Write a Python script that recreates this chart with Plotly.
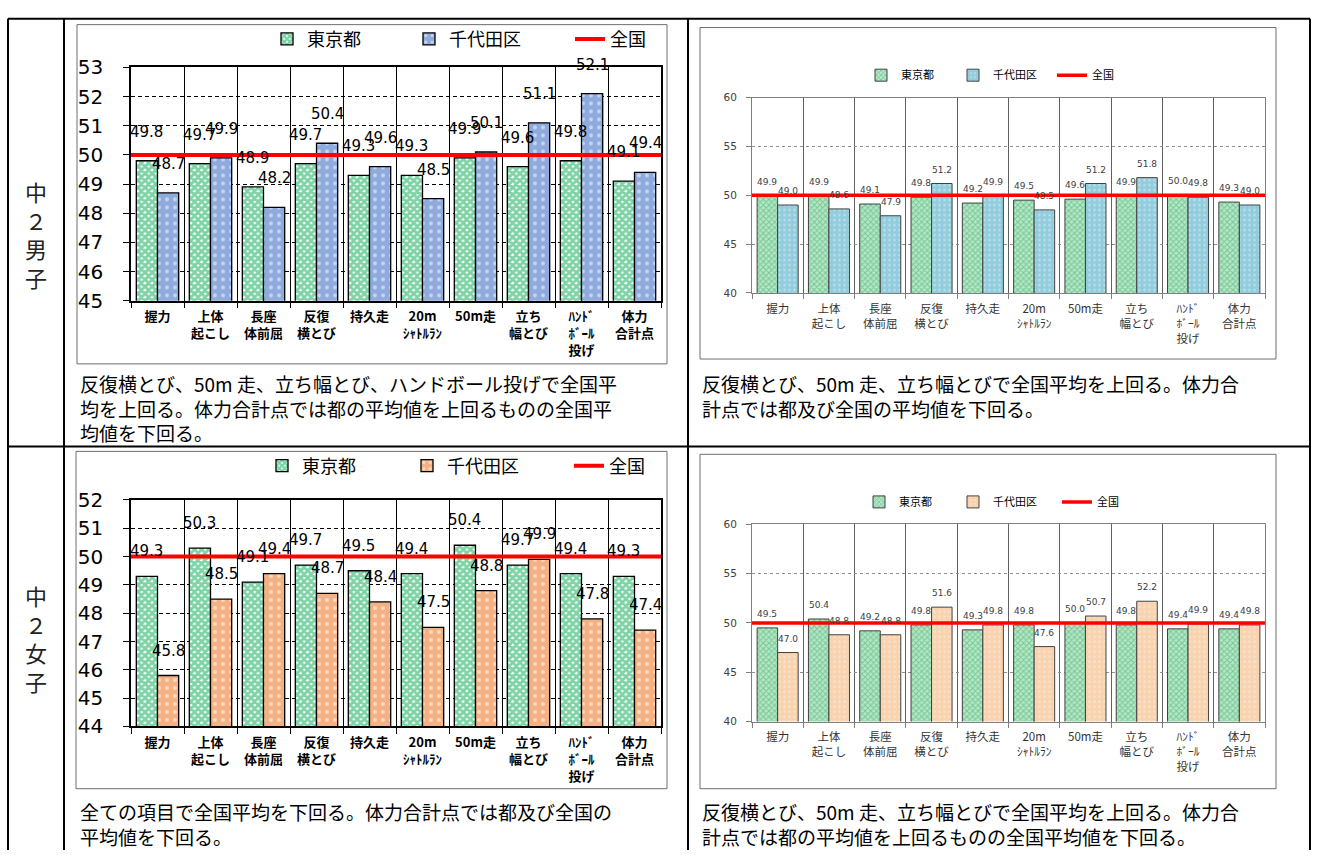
import plotly.graph_objects as go

W, H = 1317, 859

# ---------------- data ----------------
categories = ['握力', '上体起こし', '長座体前屈', '反復横とび', '持久走',
              '20mシャトルラン', '50m走', '立ち幅とび', 'ハンドボール投げ', '体力合計点']
tick_labels = ['握力', '上体<br>起こし', '長座<br>体前屈', '反復<br>横とび', '持久走',
               '20m<br>ｼｬﾄﾙﾗﾝ', '50m走', '立ち<br>幅とび', 'ﾊﾝﾄﾞ<br>ﾎﾞｰﾙ<br>投げ', '体力<br>合計点']
series_names = ['東京都', '千代田区', '全国']

# 中2男子
boys_tokyo_left = [49.8, 49.7, 48.9, 49.7, 49.3, 49.3, 49.9, 49.6, 49.8, 49.1]
boys_chiyoda_left = [48.7, 49.9, 48.2, 50.4, 49.6, 48.5, 50.1, 51.1, 52.1, 49.4]
boys_tokyo_right = [49.9, 49.9, 49.1, 49.8, 49.2, 49.5, 49.6, 49.9, 50.0, 49.3]
boys_chiyoda_right = [49.0, 48.6, 47.9, 51.2, 49.9, 48.5, 51.2, 51.8, 49.8, 49.0]
# 中2女子
girls_tokyo_left = [49.3, 50.3, 49.1, 49.7, 49.5, 49.4, 50.4, 49.7, 49.4, 49.3]
girls_chiyoda_left = [45.8, 48.5, 49.4, 48.7, 48.4, 47.5, 48.8, 49.9, 47.8, 47.4]
girls_tokyo_right = [49.5, 50.4, 49.2, 49.8, 49.3, 49.8, 50.0, 49.8, 49.4, 49.4]
girls_chiyoda_right = [47.0, 48.8, 48.8, 51.6, 49.8, 47.6, 50.7, 52.2, 49.9, 49.8]
national_avg = 50

row_labels = ['中<br>２<br>男<br>子', '中<br>２<br>女<br>子']
comment_tl = ['反復横とび、50m 走、立ち幅とび、ハンドボール投げで全国平',
              '均を上回る。体力合計点では都の平均値を上回るものの全国平',
              '均値を下回る。']
comment_tr = ['反復横とび、50m 走、立ち幅とびで全国平均を上回る。体力合',
              '計点では都及び全国の平均値を下回る。']
comment_bl = ['全ての項目で全国平均を下回る。体力合計点では都及び全国の',
              '平均値を下回る。']
comment_br = ['反復横とび、50m 走、立ち幅とびで全国平均を上回る。体力合',
              '計点では都の平均値を上回るものの全国平均値を下回る。']

JP = 'Noto Sans CJK JP'
NUM = 'DejaVu Sans'


def px_x(x):
    return x / W


def px_y(y):
    return 1 - y / H


styles = {
    'A': dict(tick_size=20, tick_color='black', label_size=15, label_color='black',
              cat_size=13, cat_weight='bold', cat_color='black', legend_size=18,
              bar_line='black', bar_lw=1.3, green_bg='white', green_fg='#00A84E',
              green_size=5, green_sol=0.8, dot_fg='white', dot_size=8, dot_sol=0.2,
              grid='black', griddash='4px,3px', vline='black', axis='black', axis_w=1.5,
              red_w=4, ticklen=6, ystand=16, xstand=3),
    'B': dict(tick_size=10.5, tick_color='#404040', label_size=9, label_color='#404040',
              cat_size=11.5, cat_weight='normal', cat_color='#333333', legend_size=11,
              bar_line='#404040', bar_lw=1, green_bg='#B5E6C6', green_fg='#3DAA66',
              green_size=4, green_sol=0.45, dot_fg='#E8F6FA', dot_size=5, dot_sol=0.18,
              grid='#909090', griddash='dot', vline='#606060', axis='#808080', axis_w=1,
              red_w=3.5, ticklen=5, ystand=7, xstand=5),
}

panels = [
    dict(s='', tokyo=boys_tokyo_left, chiyoda=boys_chiyoda_left, st='A', c2='#8FAADC',
         plot=(131, 57, 661, 297), yr=(45, 53), dtick=1, frame=(77, 13, 667, 362),
         lx=267, ly=28, lw=(97, 116), lshift=29),
    dict(s='2', tokyo=boys_tokyo_right, chiyoda=boys_chiyoda_right, st='B', c2='#93CDDD',
         plot=(752, 88, 1265, 289), yr=(40, 60), dtick=5, frame=(700, 16, 1276, 357),
         lx=861, ly=65, lw=(47, 54), lshift=14),
    dict(s='3', tokyo=girls_tokyo_left, chiyoda=girls_chiyoda_left, st='A', c2='#F4B183',
         plot=(131, 502, 661, 735), yr=(44, 52), dtick=1, frame=(76, 452, 667, 799),
         lx=262, ly=467, lw=(100, 117), lshift=25),
    dict(s='4', tokyo=girls_tokyo_right, chiyoda=girls_chiyoda_right, st='B', c2='#FAD3AE',
         plot=(752, 527, 1265, 730), yr=(40, 60), dtick=5, frame=(700, 455, 1276, 799),
         lx=859, ly=504, lw=(49, 59), lshift=14),
]

fig = go.Figure()
annotations = []
shapes = []
bargap = 0.2
half = (1 - bargap) / 4

for p in panels:
    st = styles[p['st']]
    s = p['s']
    xr, yr_ = 'x' + s, 'y' + s
    leg = 'legend' + s
    fig.add_trace(go.Bar(
        x=categories, y=p['tokyo'], name=series_names[0], xaxis=xr, yaxis=yr_,
        legend=leg, legendwidth=p['lw'][0],
        marker=dict(color=st['green_bg'], line=dict(color=st['bar_line'], width=st['bar_lw']),
                    pattern=dict(shape='x', fgcolor=st['green_fg'], size=st['green_size'],
                                 solidity=st['green_sol'], fillmode='overlay')),
        hoverinfo='skip'))
    fig.add_trace(go.Bar(
        x=categories, y=p['chiyoda'], name=series_names[1], xaxis=xr, yaxis=yr_,
        legend=leg, legendwidth=p['lw'][1],
        marker=dict(color=p['c2'], line=dict(color=st['bar_line'], width=st['bar_lw']),
                    pattern=dict(shape='.', fgcolor=st['dot_fg'], size=st['dot_size'],
                                 solidity=st['dot_sol'], fillmode='overlay')),
        hoverinfo='skip'))
    fig.add_shape(type='line', xref=xr + ' domain', yref=yr_, x0=0, x1=1,
                  y0=national_avg, y1=national_avg,
                  line=dict(color='#FF0000', width=st['red_w']), layer='above',
                  showlegend=True, name=series_names[2], legend=leg)
    # data labels
    for i, (a, b) in enumerate(zip(p['tokyo'], p['chiyoda'])):
        for val, off in ((a, -half), (b, half)):
            annotations.append(dict(
                x=i + off, y=val, xref=xr, yref=yr_, text=f'{val:.1f}', showarrow=False,
                xanchor='center', yanchor='middle', yshift=p['lshift'],
                font=dict(family=NUM, size=st['label_size'], color=st['label_color'])))
    x0, y0, x1, y1 = p['plot']
    fig.update_layout(**{
        'xaxis' + s: dict(
            domain=[px_x(x0), px_x(x1)], anchor=yr_, type='category',
            categoryorder='array', categoryarray=categories,
            tickmode='array', tickvals=categories, ticktext=tick_labels,
            tickson='boundaries', range=[-0.5, len(categories) - 0.5],
            showgrid=True, gridcolor=st['vline'], gridwidth=1,
            showline=True, linecolor=st['axis'], linewidth=st['axis_w'], mirror=True,
            ticks='outside', ticklen=st['ticklen'], tickcolor=st['axis'],
            ticklabelstandoff=st['xstand'],
            tickfont=dict(family=JP, size=st['cat_size'], color=st['cat_color'],
                          weight=st['cat_weight']),
            fixedrange=True),
        'yaxis' + s: dict(
            domain=[px_y(y1), px_y(y0)], anchor=xr, range=list(p['yr']),
            tick0=p['yr'][0], dtick=p['dtick'],
            showgrid=True, gridcolor=st['grid'], griddash=st['griddash'], gridwidth=1,
            zeroline=False, showline=True, linecolor=st['axis'], linewidth=st['axis_w'],
            mirror=True, ticks='outside', ticklen=st['ticklen'], tickcolor=st['axis'],
            ticklabelstandoff=st['ystand'],
            tickfont=dict(family=NUM, size=st['tick_size'], color=st['tick_color']),
            fixedrange=True),
        leg: dict(orientation='h', x=px_x(p['lx']), y=px_y(p['ly']),
                  xanchor='left', yanchor='middle', bgcolor='rgba(0,0,0,0)',
                  borderwidth=0, font=dict(family=JP, size=st['legend_size'], color='black')),
    })
    fx0, fy0, fx1, fy1 = p['frame']
    shapes.append(dict(type='rect', xref='paper', yref='paper', x0=px_x(fx0), x1=px_x(fx1),
                       y0=px_y(fy1), y1=px_y(fy0), line=dict(color='#6E6E6E', width=1),
                       layer='below'))

# table grid lines
table_lines = [((8, 7), (1310, 7)), ((8, 7), (8, 862)), ((1310, 7), (1310, 862)),
               ((64, 7), (64, 862)), ((688, 7), (688, 862)), ((8, 447), (1310, 447))]
for (ax0, ay0), (ax1, ay1) in table_lines:
    shapes.append(dict(type='line', xref='paper', yref='paper', x0=px_x(ax0), x1=px_x(ax1),
                       y0=px_y(ay0), y1=px_y(ay1), line=dict(color='black', width=2)))

# row labels
for txt, yc in zip(row_labels, (228, 644)):
    annotations.append(dict(x=px_x(36), y=px_y(yc), xref='paper', yref='paper', text=txt,
                            showarrow=False, xanchor='center', yanchor='middle',
                            font=dict(family=JP, size=22, color='#222222')))

# comments (one text block per cell)
for lines, xl, ytop in ((comment_tl, 78, 366), (comment_tr, 700, 366),
                        (comment_bl, 78, 807), (comment_br, 700, 807)):
    annotations.append(dict(x=px_x(xl), y=px_y(ytop), xref='paper', yref='paper',
                            text='<br>'.join(lines), align='left',
                            showarrow=False, xanchor='left', yanchor='top',
                            font=dict(family=JP, size=19, color='black')))

fig.update_layout(
    width=W, height=H, autosize=False,
    margin=dict(l=0, r=0, t=0, b=0, pad=0),
    paper_bgcolor='white', plot_bgcolor='white',
    barmode='group', bargap=bargap, bargroupgap=0,
    annotations=annotations,
    font=dict(family=JP),
)
for sh in shapes:
    fig.add_shape(**sh)

fig.write_html('out.html')
